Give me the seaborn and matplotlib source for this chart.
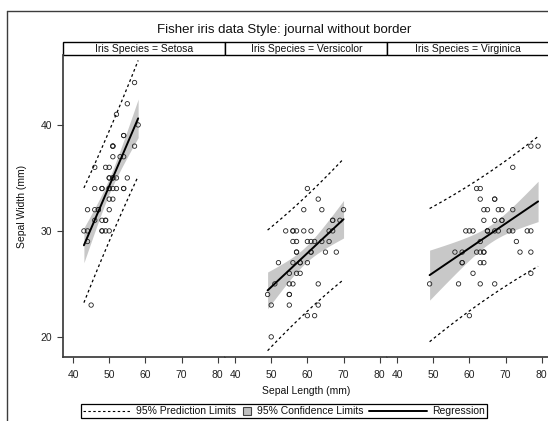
import numpy as np
import pandas as pd
import matplotlib
matplotlib.use('Agg')
import matplotlib.pyplot as plt
import seaborn as sns
from matplotlib.lines import Line2D
from matplotlib.patches import Rectangle
from matplotlib.offsetbox import AnchoredOffsetbox, HPacker, TextArea, DrawingArea

# --- data (Fisher iris, mm) ---
SPECIES = ['Setosa', 'Versicolor', 'Virginica']

SETOSA_LEN = [51, 49, 47, 46, 50, 54, 46, 50, 44, 49, 54, 48, 48, 43, 58, 57, 54, 51, 57, 51,
              54, 51, 46, 51, 48, 50, 50, 52, 52, 47, 48, 54, 52, 55, 49, 50, 55, 49, 44, 51,
              50, 45, 44, 50, 51, 48, 51, 46, 53, 50]
SETOSA_WID = [35, 30, 32, 31, 36, 39, 34, 34, 29, 31, 37, 34, 30, 30, 40, 44, 39, 35, 38, 38,
              34, 37, 36, 33, 34, 30, 34, 35, 34, 32, 31, 34, 41, 42, 31, 32, 35, 36, 30, 34,
              35, 23, 32, 35, 38, 30, 38, 32, 37, 33]

VERSI_LEN = [70, 64, 69, 55, 65, 57, 63, 49, 66, 52, 50, 59, 60, 61, 56, 67, 56, 58, 62, 56,
             59, 61, 63, 61, 64, 66, 68, 67, 60, 57, 55, 55, 58, 60, 54, 60, 67, 63, 56, 55,
             55, 61, 58, 50, 56, 57, 57, 62, 51, 57]
VERSI_WID = [32, 32, 31, 23, 28, 28, 33, 24, 29, 27, 20, 30, 22, 29, 29, 31, 30, 27, 22, 25,
             32, 28, 25, 28, 29, 30, 28, 30, 29, 26, 24, 24, 27, 27, 30, 34, 31, 23, 30, 25,
             26, 30, 26, 23, 27, 30, 29, 29, 25, 28]

VIRGI_LEN = [63, 58, 71, 63, 65, 76, 49, 73, 67, 72, 65, 64, 68, 57, 58, 64, 65, 77, 77, 60,
             69, 56, 77, 63, 67, 72, 62, 61, 64, 72, 74, 79, 64, 63, 61, 77, 63, 64, 60, 69,
             67, 69, 58, 68, 67, 67, 63, 65, 62, 59]
VIRGI_WID = [33, 27, 30, 29, 30, 30, 25, 29, 25, 36, 32, 27, 30, 25, 28, 32, 30, 38, 26, 22,
             32, 28, 28, 27, 33, 32, 28, 30, 28, 30, 28, 38, 28, 28, 26, 30, 34, 31, 30, 31,
             31, 31, 27, 32, 33, 30, 25, 30, 34, 30]

X_TICKS = [40, 50, 60, 70, 80]
Y_TICKS = [20, 30, 40]

T_975 = 2.0106  # t quantile, 48 df

df = pd.concat([
    pd.DataFrame({'Species': sp, 'SepalLength': xl, 'SepalWidth': yl})
    for sp, xl, yl in zip(SPECIES,
                          [SETOSA_LEN, VERSI_LEN, VIRGI_LEN],
                          [SETOSA_WID, VERSI_WID, VIRGI_WID])
], ignore_index=True)

sns.set_theme(style='white')
plt.rcParams['font.family'] = ['Liberation Sans', 'DejaVu Sans']
plt.rcParams['text.color'] = '#111111'

W, H = 548, 421
AX_COLOR = '#3c3c3c'
fig = plt.figure(figsize=(W / 100, H / 100), dpi=100)

left_px, top_px, bot_px, panel_w = 63.3, 55, 357, 162
strip_h = 13.3 / (bot_px - top_px)

for i, sp in enumerate(SPECIES):
    ax = fig.add_axes([(left_px + i * panel_w) / W, 1 - bot_px / H,
                       panel_w / W, (bot_px - top_px) / H])
    d = df[df['Species'] == sp]
    x = d['SepalLength'].to_numpy(float)
    y = d['SepalWidth'].to_numpy(float)
    n = len(x)
    b1, b0 = np.polyfit(x, y, 1)
    s = np.sqrt(np.sum((y - (b0 + b1 * x)) ** 2) / (n - 2))
    sxx = np.sum((x - x.mean()) ** 2)
    xs = np.linspace(x.min(), x.max(), 100)
    yhat = b0 + b1 * xs
    se_m = s * np.sqrt(1 / n + (xs - x.mean()) ** 2 / sxx)
    se_p = s * np.sqrt(1 + 1 / n + (xs - x.mean()) ** 2 / sxx)

    ax.fill_between(xs, yhat - T_975 * se_m, yhat + T_975 * se_m, color='#c8c8c8', lw=0)
    sns.lineplot(x=xs, y=yhat - T_975 * se_p, ax=ax, color='black', lw=0.9,
                 linestyle=(0, (2.2, 2.2)), estimator=None)
    sns.lineplot(x=xs, y=yhat + T_975 * se_p, ax=ax, color='black', lw=0.9,
                 linestyle=(0, (2.2, 2.2)), estimator=None)
    sns.scatterplot(data=d, x='SepalLength', y='SepalWidth', ax=ax, marker='o', s=10,
                    linewidth=0.6, zorder=3)
    pts = ax.collections[-1]
    pts.set_facecolor('none')
    pts.set_edgecolor('#222222')
    sns.lineplot(x=xs, y=yhat, ax=ax, color='black', lw=1.4, estimator=None, zorder=4)

    ax.set_xlim(37.3, 82.1)
    ax.set_ylim(18.1, 46.6)
    ax.set_xticks(X_TICKS)
    ax.set_xlabel('')
    ax.set_ylabel('')
    for side in ['top', 'right']:
        ax.spines[side].set_visible(False)
    ax.spines['bottom'].set_color(AX_COLOR)
    ax.spines['left'].set_color(AX_COLOR)
    ax.tick_params(axis='both', direction='out', length=4, width=0.8, color=AX_COLOR,
                   labelsize=7.5, labelcolor='#222222')
    ax.tick_params(axis='x', pad=5, bottom=True)
    ax.tick_params(axis='y', pad=4, left=True)
    if i == 0:
        ax.set_yticks(Y_TICKS)
    else:
        ax.spines['left'].set_visible(False)
        ax.set_yticks([])

    # strip header
    ax.add_patch(Rectangle((0, 1), 1, strip_h, transform=ax.transAxes, clip_on=False,
                           facecolor='white', edgecolor='black', lw=1.0))
    ax.text(0.5, 1 + strip_h / 2 - 0.002, f'Iris Species = {sp}', transform=ax.transAxes,
            ha='center', va='center', fontsize=7.5)

fig.text(284 / W, 1 - 30 / H, 'Fisher iris data Style: journal without border',
         ha='center', va='center', fontsize=9.5, fontweight='medium')
fig.text(306 / W, 1 - 391 / H, 'Sepal Length (mm)', ha='center', va='center', fontsize=7.5)
fig.text(22 / W, 1 - 206 / H, 'Sepal Width (mm)', ha='center', va='center',
         rotation=90, fontsize=7.5)

# outer border (partially cropped)
fig.add_artist(Line2D([7 / W, 7 / W], [0, 1 - 11 / H], transform=fig.transFigure,
                      color=AX_COLOR, lw=1.0))
fig.add_artist(Line2D([7 / W, 1], [1 - 11 / H, 1 - 11 / H], transform=fig.transFigure,
                      color=AX_COLOR, lw=1.0))

# legend
pt = 0.72  # px -> points
da1 = DrawingArea(48 * pt, 10 * pt)
da1.add_artist(Line2D([0, 48 * pt], [5 * pt, 5 * pt], color='black', lw=0.8,
                      linestyle=(0, (2.2, 2.2))))
da2 = DrawingArea(9 * pt, 10 * pt)
da2.add_artist(Rectangle((0.5 * pt, 1 * pt), 8 * pt, 8 * pt, facecolor='#c0c0c0',
                         edgecolor='#444444', lw=0.8))
da3 = DrawingArea(58 * pt, 10 * pt)
da3.add_artist(Line2D([0, 58 * pt], [5 * pt, 5 * pt], color='black', lw=1.4))
tp = dict(size=7.5, color='#111111')
items = [da1, TextArea('95% Prediction Limits', textprops=tp),
         da2, TextArea('95% Confidence Limits', textprops=tp),
         da3, TextArea('Regression', textprops=tp)]
row = HPacker(children=items, align='center', pad=0, sep=4)
leg = AnchoredOffsetbox(loc='center', child=row, pad=0.15, borderpad=0, frameon=True,
                        bbox_to_anchor=(284 / W, 1 - 411 / H),
                        bbox_transform=fig.transFigure)
leg.patch.set_boxstyle('square', pad=0)
leg.patch.set_edgecolor('black')
leg.patch.set_linewidth(0.9)
fig.add_artist(leg)

fig.savefig('out.png', dpi=100)
